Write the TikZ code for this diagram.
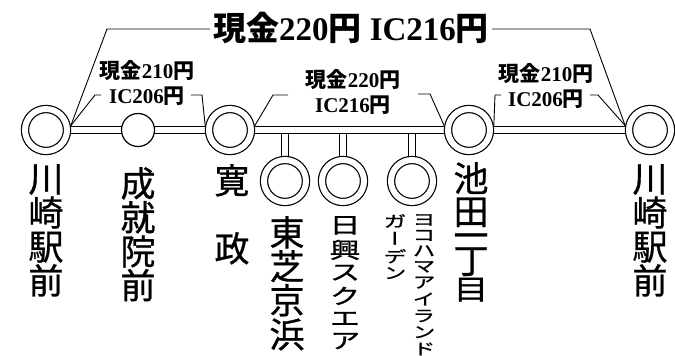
\documentclass[tikz,border=0pt]{standalone}
\usepackage{fontspec}
\usepackage{graphicx}
\setmainfont{Liberation Serif}
\newfontfamily\jp{Noto Sans CJK JP}
\newfontfamily\jpv{Noto Sans CJK JP}[RawFeature=+vert, FakeBold=0.8]
\usetikzlibrary{backgrounds}
\newcommand{\squash}[2]{\scalebox{1}[#1]{\begin{tabular}{@{}c@{}}#2\end{tabular}}}

\begin{document}
\begin{tikzpicture}[
    x=1pt, y=-1pt,
    station/.style={circle, draw, fill=white, line width=1.2pt, double, double distance=6pt, minimum size=42pt, inner sep=0pt, outer sep=4.2pt},
    minor/.style={circle, draw, fill=white, line width=1.2pt, minimum size=33pt, inner sep=0pt},
    route/.style={line width=1.2pt, double, double distance=6pt},
    leader/.style={line width=0.9pt},
    fare/.style={align=center, inner sep=2pt, font=\bfseries\fontsize{21}{25}\selectfont},
    total/.style={inner sep=3pt, font=\bfseries\fontsize{33}{36}\selectfont},
    stopname/.style={anchor=north, align=center, inner sep=0pt, font=\jpv\fontsize{35}{34}\selectfont}
]
\useasboundingbox (0,0) rectangle (675,356);

% Stations on the main line
\node[station] (kawasakiL) at (46,130) {};
\node[minor] (jojuin) at (138,130) {};
\node[station] (kansei) at (230,130) {};
\node[station] (ikeda) at (469,130) {};
\node[station] (kawasakiR) at (650,130) {};

% Branch stations
\node[station] (toshiba) at (285,181) {};
\node[station] (nikko) at (343,181) {};
\node[station] (yokohama) at (412,181) {};
\coordinate (toshibaJoint) at (285,130);
\coordinate (nikkoJoint) at (343,130);
\coordinate (yokohamaJoint) at (412,130);

% Route (behind the circles)
\begin{scope}[on background layer]
\draw[route] (toshibaJoint) -- (toshiba);
\draw[route] (nikkoJoint) -- (nikko);
\draw[route] (yokohamaJoint) -- (yokohama);
\draw[route] (kawasakiL) -- (kawasakiR);
\end{scope}

% Fares
\node[total] (fareAll) at (351,28) {{\jp 現金}220{\jp 円} IC216{\jp 円}};
\node[fare] (fareA) at (147,83) {{\jp 現金}210{\jp 円}\\IC206{\jp 円}};
\node[fare] (fareB) at (353,92) {{\jp 現金}220{\jp 円}\\IC216{\jp 円}};
\node[fare] (fareC) at (546,86) {{\jp 現金}210{\jp 円}\\IC206{\jp 円}};

% Fare brackets
\draw[leader] (kawasakiL.10) -- (107,29) -- (fareAll.west |- 0,29);
\draw[leader] (fareAll.east |- 0,29) -- (590,29) -- (kawasakiR.170);
\draw[leader] (kawasakiL.10) -- (95,95) -- (101,95);
\draw[leader] (191,95) -- (202,95) -- (kansei.170);
\draw[leader] (kansei.10) -- (273,95) -- (288,95);
\draw[leader] (418,94) -- (430,94) -- (ikeda.170);
\draw[leader] (ikeda.10) -- (495,95) -- (501,95);
\draw[leader] (590,95) -- (598,95) -- (kawasakiR.170);

% Stop names
\node[stopname] (name1) at (46,164) {川\\崎\\駅\\前};
\node[stopname] (name2) at (138,167) {成\\就\\院\\前};
\node[stopname] (name3) at (232,164) {寛\\[34pt]政};
\node[stopname] (name4) at (287,216) {東\\芝\\京\\浜};
\node[stopname, font=\jpv\fontsize{31}{31}\selectfont] (name5) at (345,216) {\squash{0.71}{日\\興\\ス\\ク\\エ\\ア}};
\node[stopname, font=\jpv\fontsize{23}{22}\selectfont] (name6) at (424,214) {\squash{0.7}{ヨ\\コ\\ハ\\マ\\ア\\イ\\ラ\\ン\\ド}};
\node[stopname, font=\jpv\fontsize{23}{22}\selectfont] (name7) at (395,214) {\squash{0.7}{ガ\\ー\\デ\\ン}};
\node[stopname, font=\jpv\fontsize{35}{33}\selectfont] (name8) at (471,162) {池\\[0pt]田\\[-9pt]一\\[-8pt]丁\\[-7pt]\scalebox{1}[0.8]{目}};
\node[stopname] (name9) at (650,164) {川\\崎\\駅\\前};
\end{tikzpicture}
\end{document}
